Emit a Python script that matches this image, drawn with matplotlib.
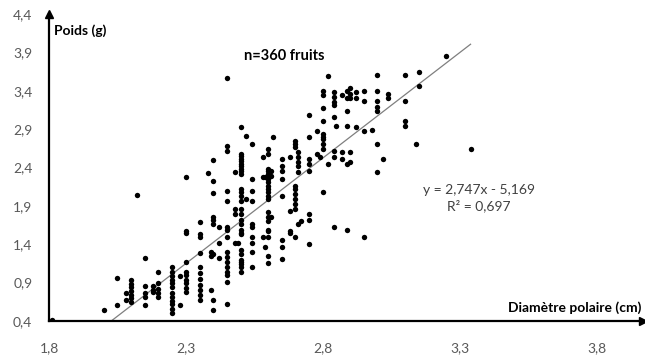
import matplotlib
matplotlib.use("Agg")
import matplotlib.pyplot as plt

plt.rcParams['font.family'] = ['Lato', 'DejaVu Sans']

# colonnes de points : diametre (cm) -> poids (g)
diametres = [1.81, 2.00, 2.05, 2.08, 2.10, 2.12, 2.15, 2.18, 2.20, 2.25, 2.28, 2.30,
             2.35, 2.38, 2.39, 2.40, 2.42, 2.45, 2.48, 2.49, 2.50, 2.52, 2.54, 2.58,
             2.59, 2.60, 2.61, 2.62, 2.65, 2.68, 2.70, 2.71, 2.72, 2.75, 2.78, 2.79,
             2.80, 2.82, 2.84, 2.85, 2.87, 2.89, 2.90, 2.92, 2.95, 2.98, 3.00, 3.02,
             3.04, 3.10, 3.14, 3.15, 3.25, 3.34]
poids = [
    [0.41],
    [0.54],
    [0.61, 0.96],
    [0.68, 0.77],
    [0.65, 0.70, 0.74, 0.79, 0.84, 0.88, 0.93],
    [2.04],
    [0.61, 0.71, 0.77, 0.85, 1.22],
    [0.78, 0.81, 0.86],
    [0.71, 0.76, 0.82, 0.89, 1.04],
    [0.50, 0.56, 0.62, 0.66, 0.71, 0.77, 0.84, 0.90, 0.94, 0.98, 1.04, 1.10],
    [0.61, 0.98],
    [0.78, 0.83, 0.89, 0.94, 1.00, 1.04, 1.17, 1.55, 1.57, 2.28],
    [0.68, 0.74, 0.80, 0.87, 0.95, 1.02, 1.10, 1.29, 1.50, 1.54, 1.69],
    [2.33],
    [0.81, 1.25, 1.30],
    [0.54, 0.67, 1.27, 1.66, 1.71, 1.76, 2.07, 2.22, 2.50],
    [1.22, 1.42, 1.63],
    [0.62, 0.91, 1.00, 1.04, 1.11, 1.17, 1.24, 1.30, 1.50, 1.59, 1.63, 1.96, 2.09,
     2.62, 2.68, 3.57],
    [1.42, 1.79, 1.86, 2.34],
    [1.42],
    [1.04, 1.11, 1.14, 1.17, 1.20, 1.27, 1.33, 1.53, 1.55, 1.59, 1.66, 1.72, 1.79,
     1.86, 1.96, 2.03, 2.08, 2.12, 2.31, 2.35, 2.38, 2.42, 2.45, 2.48, 2.51, 2.55,
     2.58, 2.93],
    [1.99, 2.81],
    [1.11, 1.30, 1.42, 1.50, 1.62, 1.66, 1.96, 2.09, 2.25, 2.71],
    [1.50, 2.28, 2.54],
    [1.37, 2.28],
    [1.16, 1.25, 1.50, 1.57, 1.59, 1.70, 1.76, 1.82, 1.99, 2.03, 2.08, 2.12, 2.16,
     2.21, 2.25, 2.31, 2.35, 2.38, 2.58, 2.64],
    [1.75, 2.29, 2.35],
    [2.80],
    [1.21, 1.37, 1.46, 2.03, 2.25, 2.35, 2.42, 2.51],
    [1.55, 1.57, 1.83, 2.54],
    [1.50, 1.86, 1.92, 1.99, 2.05, 2.12, 2.16, 2.67, 2.70, 2.75],
    [1.66, 2.34, 2.42, 2.47, 2.54, 2.60],
    [1.70],
    [1.40, 1.72, 1.79, 2.35, 2.45, 2.51, 2.80, 3.08],
    [2.58, 2.87],
    [2.54],
    [2.08, 2.64, 2.71, 2.77, 2.80, 2.84, 3.00, 3.17, 3.34, 3.40],
    [2.45, 3.59],
    [1.63, 2.54, 2.62, 3.06, 3.21, 3.25, 3.32, 3.39],
    [2.94],
    [2.51, 2.60, 3.34],
    [1.59, 2.45, 2.94, 3.14, 3.30, 3.40],
    [2.47, 2.60, 3.30, 3.36, 3.43],
    [2.93, 3.30, 3.39],
    [1.50, 2.88, 3.27, 3.40],
    [2.89],
    [2.34, 2.71, 3.14, 3.19, 3.27, 3.40, 3.61],
    [2.51],
    [3.30, 3.36],
    [2.94, 3.00, 3.26, 3.60],
    [2.70],
    [3.46, 3.65],
    [3.85],
    [2.64],
]

# droite de tendance (equation affichee sur le graphique)
pente = 2.747
ordonnee = -5.169

x_ticks = [1.8, 2.3, 2.8, 3.3, 3.8]
x_labels = ['1,8', '2,3', '2,8', '3,3', '3,8']
y_ticks = [0.4, 0.9, 1.4, 1.9, 2.4, 2.9, 3.4, 3.9, 4.4]
y_labels = ['0,4', '0,9', '1,4', '1,9', '2,4', '2,9', '3,4', '3,9', '4,4']

x = []
y = []
for d, col in zip(diametres, poids):
    for p in col:
        x.append(d)
        y.append(p)

fig = plt.figure(figsize=(6.45, 3.59), dpi=100)
ax = fig.add_axes([49 / 645, 38 / 359, 594 / 645, 307 / 359])

ax.scatter(x, y, s=15, color='black', linewidths=0, zorder=3)

x_min, x_max = min(x), max(x)
ax.plot([x_min, x_max], [pente * x_min + ordonnee, pente * x_max + ordonnee],
        color='#7f7f7f', lw=0.9, zorder=2)

ax.set_xlim(1.8, 3.97)
ax.set_ylim(0.4, 4.4)
ax.set_xticks(x_ticks)
ax.set_xticklabels(x_labels)
ax.set_yticks(y_ticks)
ax.set_yticklabels(y_labels)
ax.tick_params(length=0, labelsize=10, labelcolor='#595959')
ax.tick_params(axis='x', pad=15)
ax.tick_params(axis='y', pad=12)

for s in ['top', 'right']:
    ax.spines[s].set_visible(False)
for s in ['left', 'bottom']:
    ax.spines[s].set_linewidth(1.6)
    ax.spines[s].set_color('black')

# fleches au bout des axes
ax.plot(1, 0, '>', color='black', ms=6, transform=ax.transAxes, clip_on=False)
ax.plot(0, 1, '^', color='black', ms=6, transform=ax.transAxes, clip_on=False)

ax.text(0.008, 0.945, 'Poids (g)', transform=ax.transAxes, fontsize=10,
        fontweight='bold', ha='left', va='center')
ax.text(0.998, 0.045, 'Diamètre polaire (cm)', transform=ax.transAxes, fontsize=10,
        fontweight='bold', ha='right', va='center')
ax.text(2.66, 3.85, 'n=360 fruits', fontsize=10.5, fontweight='bold',
        ha='center', va='center')
ax.text(3.37, 2.0, 'y = 2,747x - 5,169\nR² = 0,697', fontsize=10, color='#404040',
        ha='center', va='center', multialignment='center', linespacing=1.3)

fig.savefig('out.png', dpi=100)
